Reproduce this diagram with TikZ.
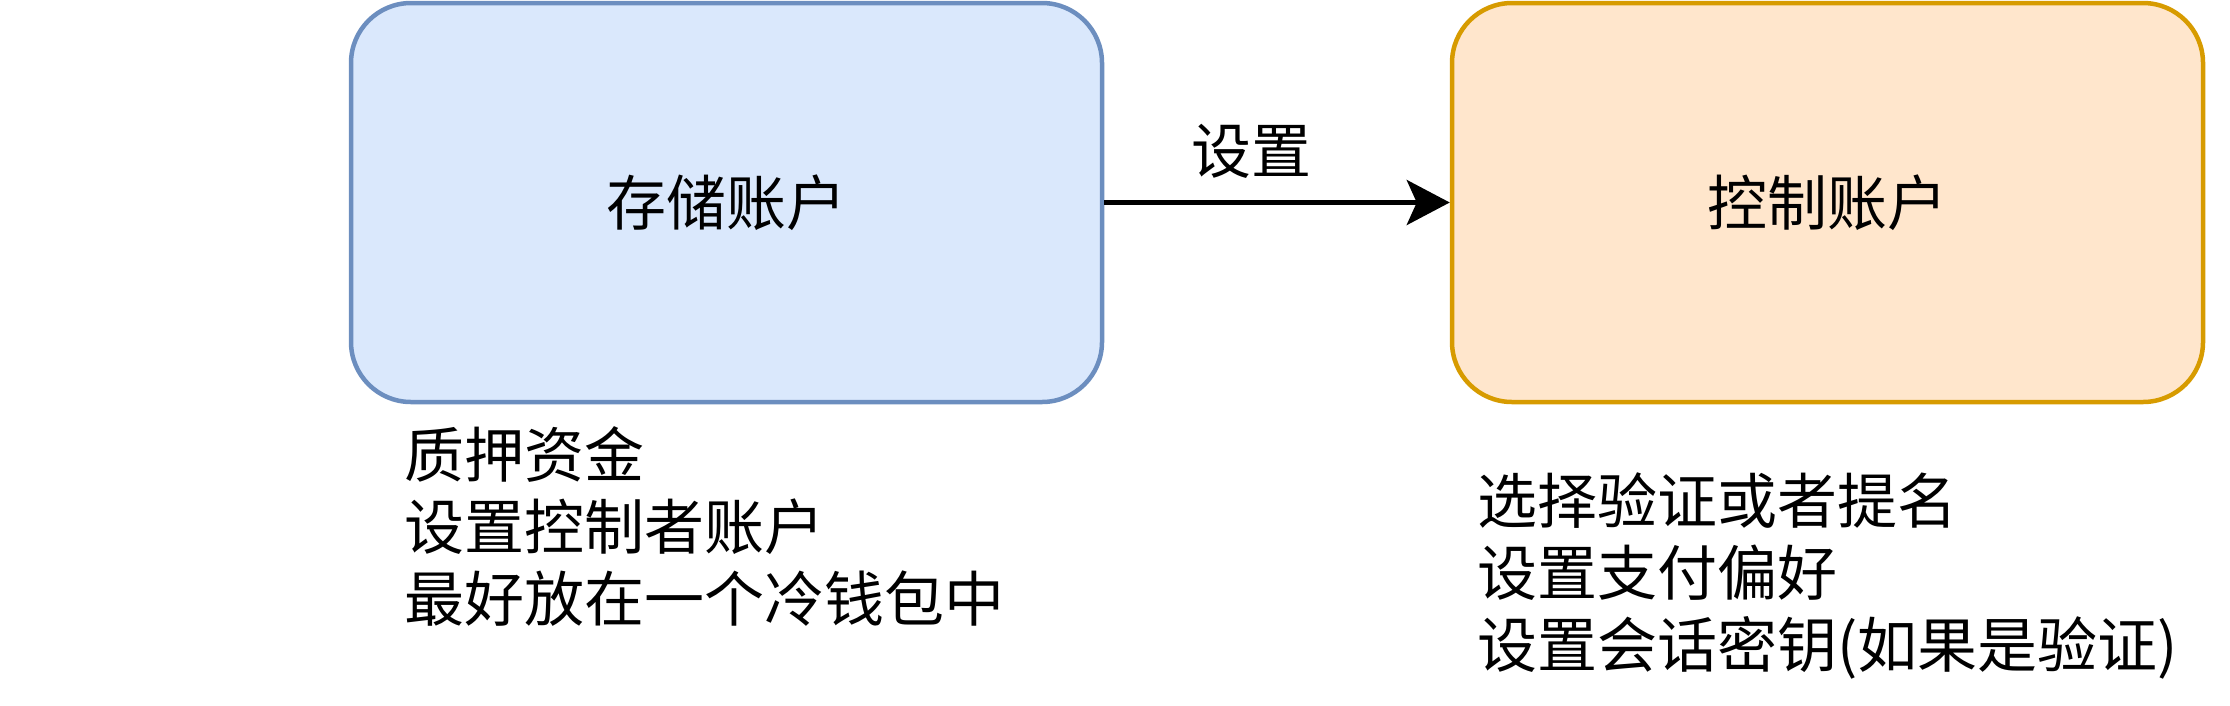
\documentclass[tikz,border=0pt]{standalone}
\usepackage{fontspec}
\setmainfont{Noto Sans CJK SC}
\usetikzlibrary{arrows.meta}
\definecolor{bluefill}{HTML}{DAE8FC}
\definecolor{bluestroke}{HTML}{6C8EBF}
\definecolor{orangefill}{HTML}{FFE6CC}
\definecolor{orangestroke}{HTML}{D79B00}
\tikzset{
  bigtext/.style={font=\fontsize{60}{72}\selectfont},
  acct/.style={draw, line width=4.5pt, rounded corners=60pt, minimum width=751pt, minimum height=399pt, inner sep=0pt, bigtext},
  bluebox/.style={acct, fill=bluefill, draw=bluestroke},
  orangebox/.style={acct, fill=orangefill, draw=orangestroke},
  note/.style={align=left, anchor=west, inner sep=0pt, bigtext},
  link/.style={line width=4.5pt, -{Stealth[length=43pt,width=45pt,inset=10pt]}},
}
\begin{document}
\begin{tikzpicture}[x=1pt,y=-1pt]
\useasboundingbox (0,0) rectangle (2230,705);
\node[bluebox] (store) at (726.5,202.5) {存储账户};
\node[orangebox] (ctrl) at (1827.5,202.5) {控制账户};
\draw[link] (store.east) -- (ctrl.west) node[midway, above=22pt, xshift=-26pt, bigtext, inner sep=0pt] (lbl) {设置};
\node[note] (storenote) at (404,526) {质押资金\\设置控制者账户\\最好放在一个冷钱包中};
\node[note] (ctrlnote) at (1477,576) {选择验证或者提名\\设置支付偏好\\设置会话密钥(如果是验证)};
\end{tikzpicture}
\end{document}
